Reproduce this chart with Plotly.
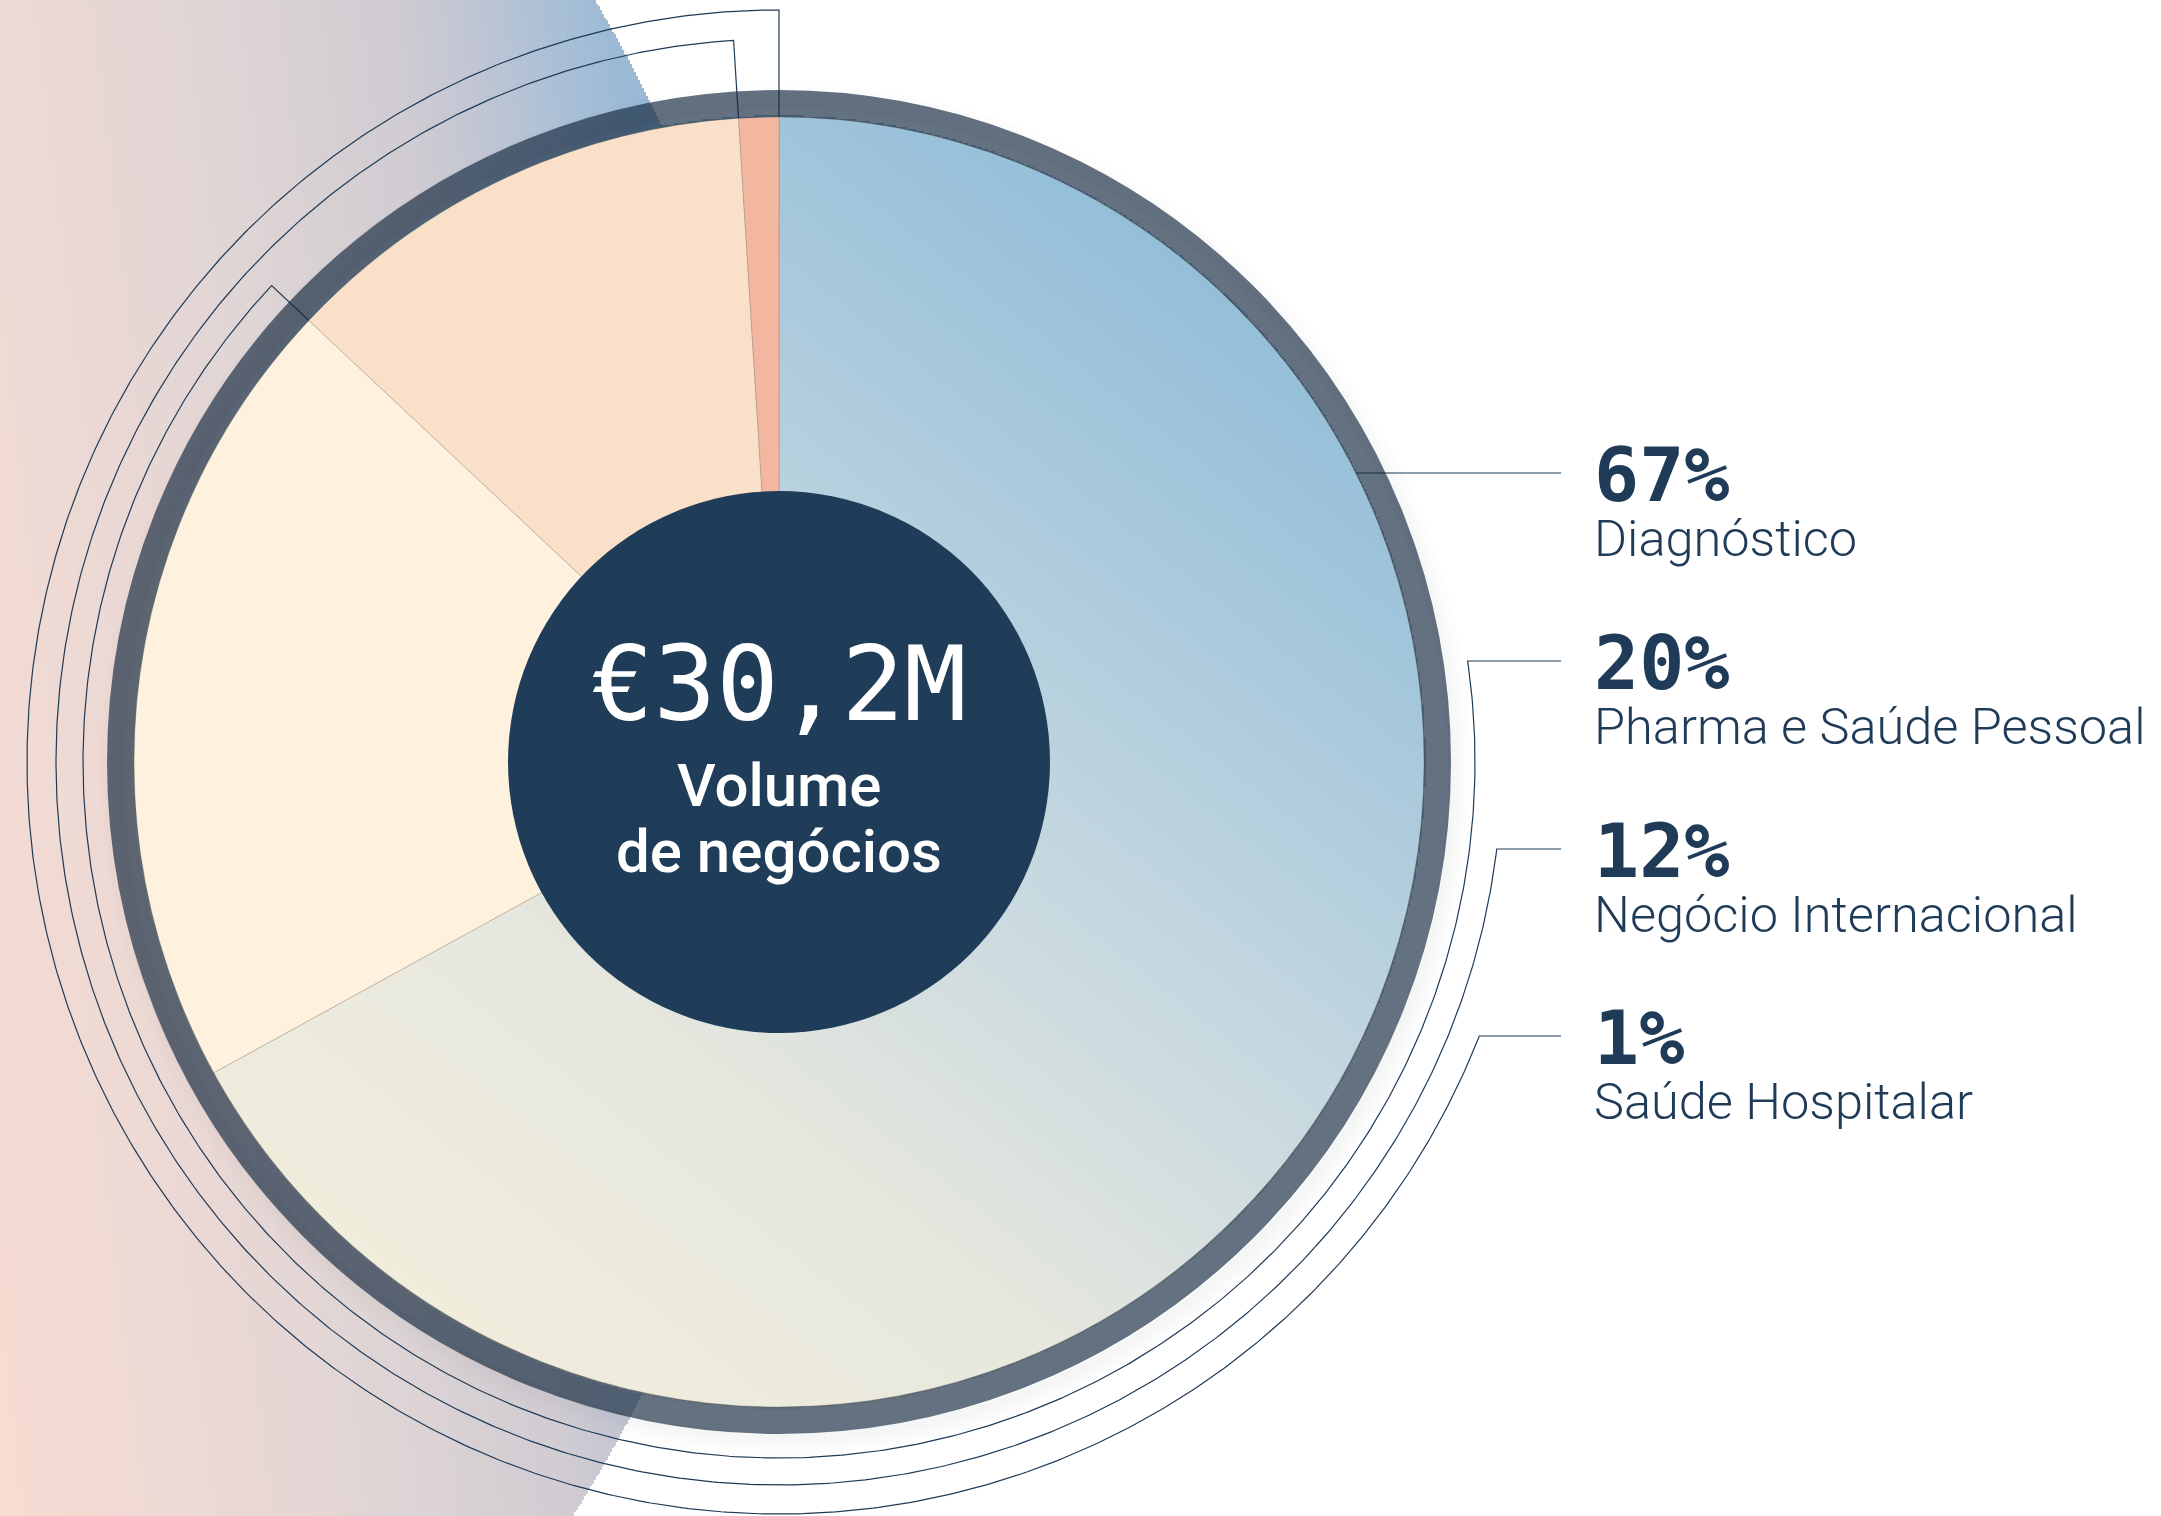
import numpy as np
import plotly.graph_objects as go

# ---------------- data ----------------
categories = ["Diagnóstico", "Pharma e Saúde Pessoal", "Negócio Internacional", "Saúde Hospitalar"]
shares = [67, 20, 12, 1]
slice_colors = ["rgba(0,0,0,0)", "#FEF2DE", "#FAE0C9", "#F3B79F"]
center_value = "€30,2M"
center_label = ["Volume", "de negócios"]

# ---------------- layout constants ----------------
W, H = 2161, 1516
NAVY = "#1F3B57"
CX, CY = 779, 762
R_PIE = 645
R_HOLE = 271
R_RING_IN, R_RING_OUT = 645, 672
ARC_R = [None, 696, 723, 752]
LEADER_Y = [473, 661, 849, 1036]
LEADER_X_END = 1561
LABEL_X = 1596

fig = go.Figure()

# ---- background large gradient circle (decorative) ----
step = 2
bx = np.arange(0, 830, step) + step / 2
by = np.arange(0, H + step, step) + step / 2
BX, BY = np.meshgrid(bx, by)
BGX, BGY, BGR = -652, 740, 1450
s = BX + 0.12 * (760 - BY)
bg_z = ((s + 100) / 810).astype(np.float32)
bg_z[(BX - BGX) ** 2 + (BY - BGY) ** 2 > BGR ** 2] = np.nan
bg_scale = [[0, "#F7DCD2"], [0.235, "#EED9D4"], [0.494, "#DFD5D5"], [0.716, "#D0CCD2"],
            [0.815, "#C0C5D3"], [0.926, "#A8BFD6"], [1, "#9AB9D5"]]
fig.add_trace(go.Heatmap(x=bx, y=by, z=bg_z, colorscale=bg_scale, zmin=0, zmax=1,
                         showscale=False, hoverinfo="skip", zsmooth=False))

# ---- gradient fill for the large slice (decorative) ----
px_ = np.arange(CX - R_PIE - 4, CX + R_PIE + 4, step) + step / 2
py_ = np.arange(CY - R_PIE - 4, CY + R_PIE + 4, step) + step / 2
PX, PY = np.meshgrid(px_, py_)
AX, AY, BX0, BY0 = 1230, 190, 330, 1330
vx, vy = AX - BX0, AY - BY0
g = ((PX - BX0) * vx + (PY - BY0) * vy) / (vx * vx + vy * vy)
g = np.clip(g, 0, 1).astype(np.float32)
g[(PX - CX) ** 2 + (PY - CY) ** 2 > (R_PIE + 1.5) ** 2] = np.nan
pie_scale = [[0, "#F3EEDC"], [0.3, "#E6E7DE"], [0.55, "#C6D8E0"], [0.75, "#ABCADC"], [1, "#8EBBD8"]]
fig.add_trace(go.Heatmap(x=px_, y=py_, z=g, colorscale=pie_scale, zmin=0, zmax=1,
                         showscale=False, hoverinfo="skip", zsmooth=False))

# ---- leader lines ----
total = sum(shares)
cum_angles = np.cumsum(shares) / total * 360.0


def polar(r, theta_deg):
    t = np.radians(theta_deg)
    return CX + r * np.sin(t), CY - r * np.cos(t)


for i, y in enumerate(LEADER_Y):
    dy = y - CY
    if ARC_R[i] is None:
        x0 = CX + np.sqrt(R_PIE ** 2 - dy ** 2)
        xs, ys = [x0, LEADER_X_END], [y, y]
    else:
        r = ARC_R[i]
        dx = np.sqrt(r ** 2 - dy ** 2)
        th0 = np.degrees(np.arctan2(dx, -dy))
        th1 = cum_angles[i]
        th = np.linspace(th0, th1, 600)
        ax_, ay_ = polar(r, th)
        ex, ey = polar(R_PIE, th1)
        xs = [LEADER_X_END] + list(ax_) + [ex]
        ys = [y] + list(ay_) + [ey]
    fig.add_trace(go.Scatter(x=xs, y=ys, mode="lines", line=dict(color=NAVY, width=1.2),
                             hoverinfo="skip", showlegend=False))

# ---- pie ----
fig.add_trace(go.Pie(
    values=shares, labels=categories, sort=False, direction="clockwise", rotation=0,
    marker=dict(colors=slice_colors, line=dict(color="rgba(150,140,125,0.45)", width=1)),
    textinfo="none", hoverinfo="label+percent", showlegend=False,
    domain=dict(x=[(CX - R_PIE) / W, (CX + R_PIE) / W],
                y=[(H - CY - R_PIE) / H, (H - CY + R_PIE) / H]),
))

# ---- shapes: shadow, ring, centre disc ----
shapes = []
for rr, a in [(664, 0.05), (668, 0.045), (672, 0.035), (676, 0.025), (680, 0.015), (684, 0.008)]:
    ox, oy = CX + 7, CY + 9
    shapes.append(dict(type="circle", xref="x", yref="y", x0=ox - rr, x1=ox + rr, y0=oy - rr, y1=oy + rr,
                       line=dict(color=f"rgba(40,50,60,{a})", width=4), fillcolor="rgba(0,0,0,0)", layer="above"))
rm = (R_RING_IN + R_RING_OUT) / 2
shapes.append(dict(type="circle", xref="x", yref="y", x0=CX - rm, x1=CX + rm, y0=CY - rm, y1=CY + rm,
                   line=dict(color="rgba(20,40,62,0.66)", width=R_RING_OUT - R_RING_IN),
                   fillcolor="rgba(0,0,0,0)", layer="above"))
shapes.append(dict(type="circle", xref="x", yref="y", x0=CX - R_HOLE, x1=CX + R_HOLE,
                   y0=CY - R_HOLE, y1=CY + R_HOLE, line=dict(width=0), fillcolor="#1F3C58", layer="above"))

# ---- annotations ----
ann = []
ann.append(dict(x=CX, y=684, xref="x", yref="y", text=center_value, showarrow=False,
                xanchor="center", yanchor="middle",
                font=dict(family="DejaVu Sans Mono", size=104, color="white")))
ann.append(dict(x=CX, y=785, xref="x", yref="y", text=center_label[0], showarrow=False,
                xanchor="center", yanchor="middle",
                font=dict(family="Roboto", size=60, color="white", weight=500)))
ann.append(dict(x=CX, y=851, xref="x", yref="y", text=center_label[1], showarrow=False,
                xanchor="center", yanchor="middle",
                font=dict(family="Roboto", size=60, color="white", weight=500)))
PCT_STYLE = "font-family:'DejaVu Sans Mono';font-size:75px;font-weight:bold"
NAME_STYLE = "font-size:50.5px"
for i, y in enumerate(LEADER_Y):
    txt = (f'<span style="{PCT_STYLE}">{shares[i]}%</span><br>'
           f'<span style="{NAME_STYLE}">{categories[i]}</span>')
    ann.append(dict(x=LABEL_X - 4, y=y - 44, xref="x", yref="y", text=txt, showarrow=False,
                    xanchor="left", yanchor="top", align="left",
                    font=dict(family="Roboto", size=42.3, color=NAVY, weight=300)))

fig.update_layout(
    width=W, height=H, margin=dict(l=0, r=0, t=0, b=0),
    paper_bgcolor="white", plot_bgcolor="white",
    xaxis=dict(range=[0, W], visible=False, fixedrange=True),
    yaxis=dict(range=[H, 0], visible=False, fixedrange=True),
    shapes=shapes, annotations=ann, showlegend=False,
)

fig.write_html("out.html", config={"displayModeBar": False},
               post_script="document.body.style.margin='0px';document.body.style.overflow='hidden';")
